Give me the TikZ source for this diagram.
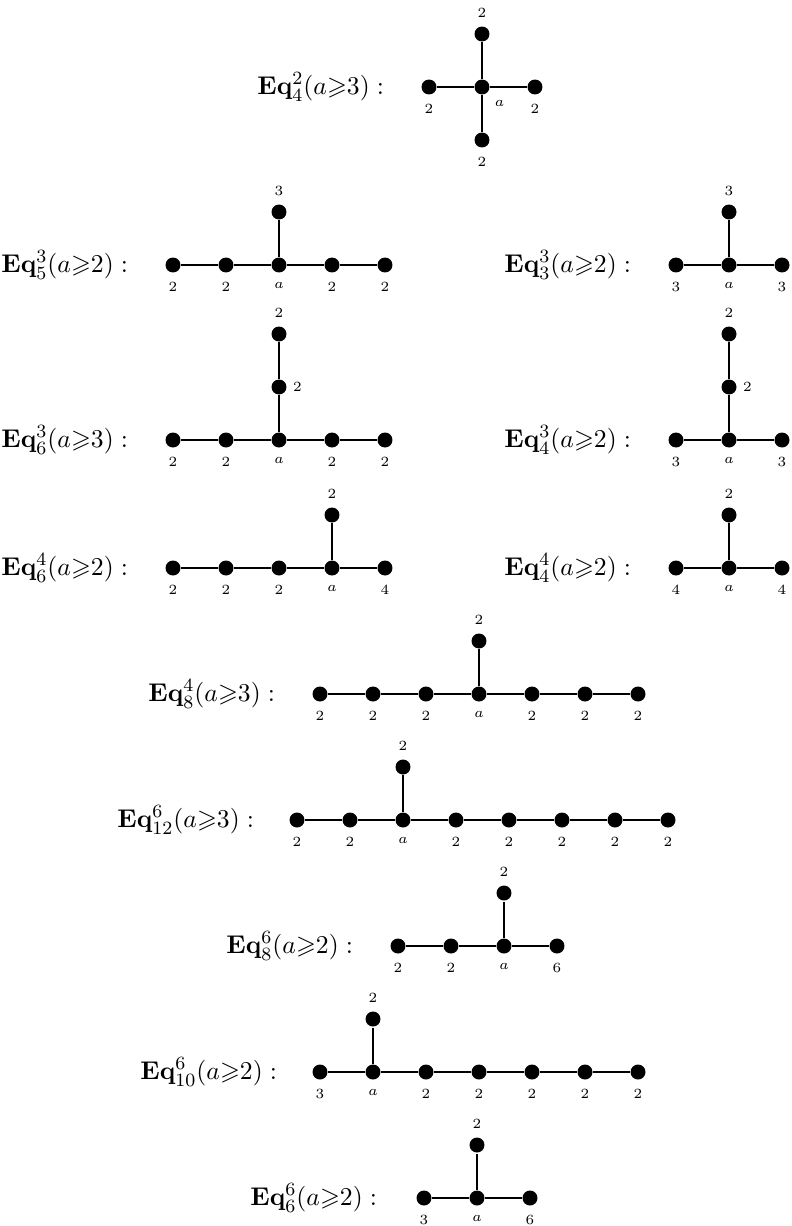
\documentclass[tikz,border=0pt]{standalone}
\usepackage{amsmath,amssymb}
\usepackage{tikz}
\usetikzlibrary{positioning}

\tikzset{
  vtx/.style={circle, fill=black, inner sep=0pt, minimum size=6.4pt},
  wt/.style={font=\fontsize{6.3}{7}\selectfont, inner sep=1pt},
  eqname/.style={anchor=east, inner sep=0pt, font=\fontsize{10.95}{13}\selectfont},
  every label/.style={wt},
}

\begin{document}
\begin{tikzpicture}[x=0.427pt, y=-0.427pt, line width=0.85pt, label distance=2.2pt]
  \useasboundingbox (0,0) rectangle (792,1226);

  % Eq^2_4
  \node[eqname] (t1) at (385,87) {$\mathbf{Eq}^2_4(a{\geqslant}3) :$};
  \node[vtx, label={below right:$a$}] (c1) at (482,87) {};
  \node[vtx, label={above:$2$}] (u1) at (482,34) {};
  \node[vtx, label={below:$2$}] (l1) at (429,87) {};
  \node[vtx, label={below:$2$}] (r1) at (535,87) {};
  \node[vtx, label={below:$2$}] (d1) at (482,140) {};
  \draw (l1) -- (c1) -- (r1);
  \draw (u1) -- (c1) -- (d1);

  % Eq^3_5
  \node[eqname] (t2) at (129,265) {$\mathbf{Eq}^3_5(a{\geqslant}2) :$};
  \node[vtx, label={below:$2$}] (a1) at (173,265) {};
  \node[vtx, label={below:$2$}] (a2) at (226,265) {};
  \node[vtx, label={below:$a$}] (a3) at (279,265) {};
  \node[vtx, label={below:$2$}] (a4) at (332,265) {};
  \node[vtx, label={below:$2$}] (a5) at (385,265) {};
  \node[vtx, label={above:$3$}] (a6) at (279,212) {};
  \draw (a1) -- (a2) -- (a3) -- (a4) -- (a5);
  \draw (a3) -- (a6);

  % Eq^3_3
  \node[eqname] (t3) at (632,265) {$\mathbf{Eq}^3_3(a{\geqslant}2) :$};
  \node[vtx, label={below:$3$}] (b1) at (676,265) {};
  \node[vtx, label={below:$a$}] (b2) at (729,265) {};
  \node[vtx, label={below:$3$}] (b3) at (782,265) {};
  \node[vtx, label={above:$3$}] (b4) at (729,212) {};
  \draw (b1) -- (b2) -- (b3);
  \draw (b2) -- (b4);

  % Eq^3_6
  \node[eqname] (t4) at (129,440) {$\mathbf{Eq}^3_6(a{\geqslant}3) :$};
  \node[vtx, label={below:$2$}] (e1) at (173,440) {};
  \node[vtx, label={below:$2$}] (e2) at (226,440) {};
  \node[vtx, label={below:$a$}] (e3) at (279,440) {};
  \node[vtx, label={below:$2$}] (e4) at (332,440) {};
  \node[vtx, label={below:$2$}] (e5) at (385,440) {};
  \node[vtx, label={[label distance=1pt]right:$2$}] (e6) at (279,387) {};
  \node[vtx, label={above:$2$}] (e7) at (279,334) {};
  \draw (e1) -- (e2) -- (e3) -- (e4) -- (e5);
  \draw (e3) -- (e6) -- (e7);

  % Eq^3_4
  \node[eqname] (t5) at (632,440) {$\mathbf{Eq}^3_4(a{\geqslant}2) :$};
  \node[vtx, label={below:$3$}] (f1) at (676,440) {};
  \node[vtx, label={below:$a$}] (f2) at (729,440) {};
  \node[vtx, label={below:$3$}] (f3) at (782,440) {};
  \node[vtx, label={[label distance=1pt]right:$2$}] (f4) at (729,387) {};
  \node[vtx, label={above:$2$}] (f5) at (729,334) {};
  \draw (f1) -- (f2) -- (f3);
  \draw (f2) -- (f4) -- (f5);

  % Eq^4_6
  \node[eqname] (t6) at (129,568) {$\mathbf{Eq}^4_6(a{\geqslant}2) :$};
  \node[vtx, label={below:$2$}] (g1) at (173,568) {};
  \node[vtx, label={below:$2$}] (g2) at (226,568) {};
  \node[vtx, label={below:$2$}] (g3) at (279,568) {};
  \node[vtx, label={below:$a$}] (g4) at (332,568) {};
  \node[vtx, label={below:$4$}] (g5) at (385,568) {};
  \node[vtx, label={above:$2$}] (g6) at (332,515) {};
  \draw (g1) -- (g2) -- (g3) -- (g4) -- (g5);
  \draw (g4) -- (g6);

  % Eq^4_4
  \node[eqname] (t7) at (632,568) {$\mathbf{Eq}^4_4(a{\geqslant}2) :$};
  \node[vtx, label={below:$4$}] (h1) at (676,568) {};
  \node[vtx, label={below:$a$}] (h2) at (729,568) {};
  \node[vtx, label={below:$4$}] (h3) at (782,568) {};
  \node[vtx, label={above:$2$}] (h4) at (729,515) {};
  \draw (h1) -- (h2) -- (h3);
  \draw (h2) -- (h4);

  % Eq^4_8
  \node[eqname] (t8) at (276,694) {$\mathbf{Eq}^4_8(a{\geqslant}3) :$};
  \node[vtx, label={below:$2$}] (i1) at (320,694) {};
  \node[vtx, label={below:$2$}] (i2) at (373,694) {};
  \node[vtx, label={below:$2$}] (i3) at (426,694) {};
  \node[vtx, label={below:$a$}] (i4) at (479,694) {};
  \node[vtx, label={below:$2$}] (i5) at (532,694) {};
  \node[vtx, label={below:$2$}] (i6) at (585,694) {};
  \node[vtx, label={below:$2$}] (i7) at (638,694) {};
  \node[vtx, label={above:$2$}] (i8) at (479,641) {};
  \draw (i1) -- (i2) -- (i3) -- (i4) -- (i5) -- (i6) -- (i7);
  \draw (i4) -- (i8);

  % Eq^6_12
  \node[eqname] (t9) at (255,820) {$\mathbf{Eq}^6_{12}(a{\geqslant}3) :$};
  \node[vtx, label={below:$2$}] (j1) at (297,820) {};
  \node[vtx, label={below:$2$}] (j2) at (350,820) {};
  \node[vtx, label={below:$a$}] (j3) at (403,820) {};
  \node[vtx, label={below:$2$}] (j4) at (456,820) {};
  \node[vtx, label={below:$2$}] (j5) at (509,820) {};
  \node[vtx, label={below:$2$}] (j6) at (562,820) {};
  \node[vtx, label={below:$2$}] (j7) at (615,820) {};
  \node[vtx, label={below:$2$}] (j8) at (668,820) {};
  \node[vtx, label={above:$2$}] (j9) at (403,767) {};
  \draw (j1) -- (j2) -- (j3) -- (j4) -- (j5) -- (j6) -- (j7) -- (j8);
  \draw (j3) -- (j9);

  % Eq^6_8
  \node[eqname] (t10) at (354,946) {$\mathbf{Eq}^6_8(a{\geqslant}2) :$};
  \node[vtx, label={below:$2$}] (k1) at (398,946) {};
  \node[vtx, label={below:$2$}] (k2) at (451,946) {};
  \node[vtx, label={below:$a$}] (k3) at (504,946) {};
  \node[vtx, label={below:$6$}] (k4) at (557,946) {};
  \node[vtx, label={above:$2$}] (k5) at (504,893) {};
  \draw (k1) -- (k2) -- (k3) -- (k4);
  \draw (k3) -- (k5);

  % Eq^6_10
  \node[eqname] (t11) at (278,1072) {$\mathbf{Eq}^6_{10}(a{\geqslant}2) :$};
  \node[vtx, label={below:$3$}] (m1) at (320,1072) {};
  \node[vtx, label={below:$a$}] (m2) at (373,1072) {};
  \node[vtx, label={below:$2$}] (m3) at (426,1072) {};
  \node[vtx, label={below:$2$}] (m4) at (479,1072) {};
  \node[vtx, label={below:$2$}] (m5) at (532,1072) {};
  \node[vtx, label={below:$2$}] (m6) at (585,1072) {};
  \node[vtx, label={below:$2$}] (m7) at (638,1072) {};
  \node[vtx, label={above:$2$}] (m8) at (373,1019) {};
  \draw (m1) -- (m2) -- (m3) -- (m4) -- (m5) -- (m6) -- (m7);
  \draw (m2) -- (m8);

  % Eq^6_6
  \node[eqname] (t12) at (378,1198) {$\mathbf{Eq}^6_6(a{\geqslant}2) :$};
  \node[vtx, label={below:$3$}] (p1) at (424,1198) {};
  \node[vtx, label={below:$a$}] (p2) at (477,1198) {};
  \node[vtx, label={below:$6$}] (p3) at (530,1198) {};
  \node[vtx, label={above:$2$}] (p4) at (477,1145) {};
  \draw (p1) -- (p2) -- (p3);
  \draw (p2) -- (p4);
\end{tikzpicture}
\end{document}
